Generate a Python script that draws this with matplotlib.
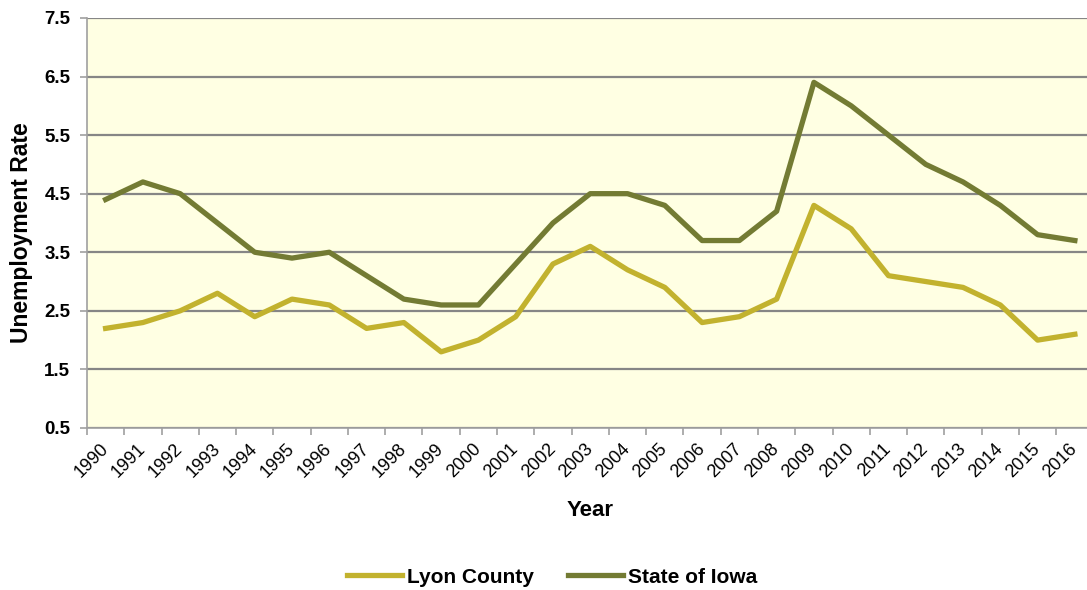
import numpy as np
import matplotlib
matplotlib.use("Agg")
import matplotlib.pyplot as plt

plt.rcParams['font.family'] = ['Liberation Sans', 'DejaVu Sans']

years = [str(y) for y in range(1990, 2017)]
lyon = [2.2, 2.3, 2.5, 2.8, 2.4, 2.7, 2.6, 2.2, 2.3, 1.8, 2.0, 2.4, 3.3, 3.6,
        3.2, 2.9, 2.3, 2.4, 2.7, 4.3, 3.9, 3.1, 3.0, 2.9, 2.6, 2.0, 2.1]
iowa = [4.4, 4.7, 4.5, 4.0, 3.5, 3.4, 3.5, 3.1, 2.7, 2.6, 2.6, 3.3, 4.0, 4.5,
        4.5, 4.3, 3.7, 3.7, 4.2, 6.4, 6.0, 5.5, 5.0, 4.7, 4.3, 3.8, 3.7]
yticks = [0.5, 1.5, 2.5, 3.5, 4.5, 5.5, 6.5, 7.5]

fig = plt.figure(figsize=(10.87, 5.9), dpi=100)
ax = fig.add_axes([0.080, 0.2746, 0.926, 0.695])
ax.set_facecolor('#FFFFE3')

x = np.arange(len(years))
ax.plot(x, lyon, color='#C2B22E', lw=3.8, label='Lyon County')
ax.plot(x, iowa, color='#737B33', lw=3.8, label='State of Iowa')

ax.set_xlim(-0.5, len(years) - 0.5)
ax.set_ylim(0.5, 7.5)
ax.set_yticks(yticks)
ax.set_yticklabels([f'{v:.1f}' for v in yticks], fontsize=13.5, fontweight='bold')
ax.grid(axis='y', color='#868686', lw=1.6)
ax.set_axisbelow(True)

ax.set_xticks(x)
ax.set_xticklabels(years, rotation=45, ha='right', va='center',
                   rotation_mode='anchor', fontsize=13)
ax.set_xticks(np.arange(len(years) + 1) - 0.5, minor=True)
ax.tick_params(axis='x', which='major', length=0, pad=13)
ax.tick_params(axis='x', which='minor', length=5, color='#A0A0A0', width=1.2)
ax.tick_params(axis='y', length=5, color='#A0A0A0', width=1.2, pad=7)

for s in ['top', 'right']:
    ax.spines[s].set_visible(False)
for s in ['left', 'bottom']:
    ax.spines[s].set_color('#A0A0A0')
    ax.spines[s].set_linewidth(1.2)

ax.set_ylabel('Unemployment Rate', fontsize=16.5, fontweight='bold', va='center')
ax.yaxis.set_label_coords(-0.065, 0.476)
ax.set_xlabel('Year', fontsize=16, fontweight='bold', va='center')
ax.xaxis.set_label_coords(0.5, -0.202)

fig.legend(loc='center', bbox_to_anchor=(0.508, 0.022), ncol=2, frameon=False,
           prop={'weight': 'bold', 'size': 15}, handlelength=2.65,
           columnspacing=1.6, handletextpad=0.25)

fig.savefig('out.png', dpi=100)
